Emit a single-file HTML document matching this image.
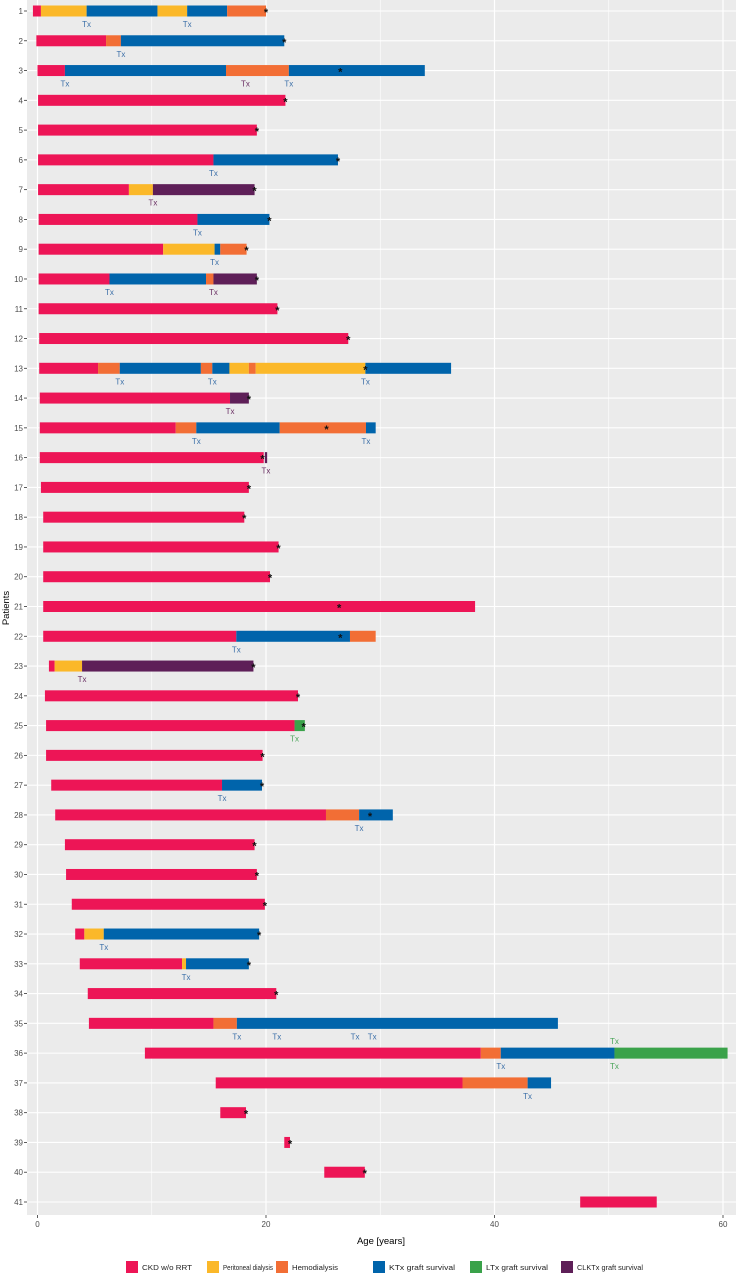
<!DOCTYPE html>
<html><head><meta charset="utf-8"><style>
html,body{margin:0;padding:0;background:#fff;width:736px;height:1273px;overflow:hidden}
svg{display:block;font-family:"Liberation Sans",sans-serif}
</style></head><body>
<svg id="chart" width="736" height="1273"></svg>
<script>
// ---- data (ages in years) ----
const patients = Array.from({length:41},(_,i)=>i+1);
const segPatient = [1,1,1,1,1,1, 2,2,2, 3,3,3,3, 4,5, 6,6, 7,7,7, 8,8, 9,9,9,9, 10,10,10,10, 11,12,
 13,13,13,13,13,13,13,13,13, 14,14, 15,15,15,15,15, 16,16, 17,18,19,20,21, 22,22,22, 23,23,23, 24, 25,25, 26, 27,27, 28,28,28,
 29,30,31, 32,32,32, 33,33,33, 34, 35,35,35, 36,36,36,36, 37,37,37, 38,39,40,41];
const segStart = [-0.4,0.3,4.3,10.5,13.1,16.6, -0.1,6.0,7.3, 0,2.4,16.5,22.0, 0.05,0.05, 0.05,15.4, 0.05,8.0,10.1, 0.1,14.0, 0.1,11.0,15.5,16.0, 0.1,6.3,14.75,15.4, 0.1,0.15,
 0.15,5.3,7.2,14.3,15.3,16.8,18.5,19.1,28.7, 0.2,16.85, 0.2,12.1,13.9,21.2,28.75, 0.2,19.9, 0.3,0.5,0.5,0.5,0.5, 0.5,17.4,27.35, 1.0,1.5,3.9, 0.65, 0.75,22.5, 0.75, 1.2,16.15, 1.55,25.25,28.15,
 2.4,2.5,3.0, 3.3,4.1,5.8, 3.7,12.65,13.0, 4.4, 4.5,15.4,17.45, 9.4,38.8,40.55,50.5, 15.6,37.2,42.9, 16.0,21.6,25.1,47.5];
const segEnd = [0.3,4.3,10.5,13.1,16.6,20.0, 6.0,7.3,21.6, 2.4,16.5,22.0,33.9, 21.7,19.2, 15.4,26.3, 8.0,10.1,19.0, 14.0,20.3, 11.0,15.5,16.0,18.3, 6.3,14.75,15.4,19.2, 21.0,27.2,
 5.3,7.2,14.3,15.3,16.8,18.5,19.1,28.7,36.2, 16.85,18.5, 12.1,13.9,21.2,28.75,29.6, 19.8,20.1, 18.5,18.1,21.1,20.35,38.3, 17.4,27.35,29.6, 1.5,3.9,18.9, 22.8, 22.5,23.4, 19.7, 16.15,19.65, 25.25,28.15,31.1,
 19.0,19.2,19.9, 4.1,5.8,19.4, 12.65,13.0,18.5, 20.9, 15.4,17.45,45.55, 38.8,40.55,50.5,60.4, 37.2,42.9,44.95, 18.25,22.1,28.65,54.2];
const segType = ["ckd","pd","ktx","pd","ktx","hd", "ckd","hd","ktx", "ckd","ktx","hd","ktx", "ckd","ckd", "ckd","ktx", "ckd","pd","clk", "ckd","ktx", "ckd","pd","ktx","hd", "ckd","ktx","hd","clk", "ckd","ckd",
 "ckd","hd","ktx","hd","ktx","pd","hd","pd","ktx", "ckd","clk", "ckd","hd","ktx","hd","ktx", "ckd","clk", "ckd","ckd","ckd","ckd","ckd", "ckd","ktx","hd", "ckd","pd","clk", "ckd", "ckd","ltx", "ckd", "ckd","ktx", "ckd","hd","ktx",
 "ckd","ckd","ckd", "ckd","pd","ktx", "ckd","pd","ktx", "ckd", "ckd","hd","ktx", "ckd","hd","ktx","ltx", "ckd","hd","ktx", "ckd","ckd","ckd","ckd"];
const starPatient = [1,2,3,4,5,6,7,8,9,10,11,12,13,14,15,16,17,18,19,20,21,22,23,24,25,26,27,28,29,30,31,32,33,34,38,39,40];
const starAge = [20.0,21.6,26.5,21.7,19.2,26.3,19.0,20.3,18.3,19.2,21.0,27.2,28.7,18.5,25.3,19.7,18.5,18.1,21.1,20.35,26.4,26.5,18.9,22.8,23.3,19.7,19.65,29.1,19.0,19.2,19.9,19.4,18.5,20.9,18.25,22.1,28.65];
const txPatient = [1,1,2,3,3,3,6,7,8,9,10,10,13,13,13,14,15,15,16,22,23,25,27,28,32,33,35,35,35,35,36,36,36,37];
const txAge = [4.3,13.1,7.3,2.4,18.2,22.0,15.4,10.1,14.0,15.5,6.3,15.4,7.2,15.3,28.7,16.85,13.9,28.75,20.0,17.4,3.9,22.5,16.15,28.15,5.8,13.0,17.45,20.95,27.8,29.3,40.55,50.5,50.5,42.9];
const txType = ["ktx","ktx","ktx","ktx","clk","ktx","ktx","clk","ktx","ktx","ktx","clk","ktx","ktx","ktx","clk","ktx","ktx","clk","ktx","clk","ltx","ktx","ktx","ktx","ktx","ktx","ktx","ktx","ktx","ktx","ltx","ltx-top","ktx"];
const xTicks = [0,20,40,60];
const xMinor = [10,30,50];
const legendKeys = ["ckd","pd","hd","ktx","ltx","clk"];
const legendLabels = ["CKD w/o RRT","Peritoneal dialysis","Hemodialysis","KTx graft survival","LTx graft survival","CLKTx graft survival"];

const fill = {ckd:"#ED1556",pd:"#FBB829",hd:"#F26E35",ktx:"#0064AB",ltx:"#3AA24A",clk:"#5E1F58"};
const txCol = {ktx:"#3b6fa8",clk:"#6a2f63","ltx":"#4aa55a","ltx-top":"#4aa55a"};

const NS="http://www.w3.org/2000/svg";
const svg=document.getElementById('chart');
const PL=27, PR=736, PT=0, PB=1215;
const x = a => 37.5 + a*11.425;
const y = p => 11 + (p-1)*29.775;
function mk(tag, attrs, parent){const e=document.createElementNS(NS,tag);for(const k in attrs)e.setAttribute(k,attrs[k]);(parent||svg).appendChild(e);return e;}

const panel = mk('rect',{x:PL,y:PT,width:PR-PL,height:PB-PT,fill:'#EBEBEB'});


xMinor.forEach(v=>{const l=mk('line',{x1:x(v),x2:x(v),y1:PT,y2:PB,stroke:'#fff','stroke-width':0.6});

});
xTicks.forEach(v=>{const l=mk('line',{x1:x(v),x2:x(v),y1:PT,y2:PB,stroke:'#fff','stroke-width':1.2});


const t=mk('line',{x1:x(v),x2:x(v),y1:PB,y2:PB+3,stroke:'#333','stroke-width':0.8});


const tx=mk('text',{x:x(v),y:PB+12,'font-size':8,fill:'#4d4d4d','text-anchor':'middle'});tx.textContent=v;

});
patients.forEach(p=>{const l=mk('line',{x1:PL,x2:PR,y1:y(p),y2:y(p),stroke:'#fff','stroke-width':1.1});


const t=mk('line',{x1:PL-3,x2:PL,y1:y(p),y2:y(p),stroke:'#333','stroke-width':0.8});


const tx=mk('text',{x:PL-4,y:y(p)+3,'font-size':8,fill:'#4d4d4d','text-anchor':'end'});tx.textContent=p;

});
segPatient.forEach((p,i)=>{const r=mk('rect',{x:x(segStart[i]),y:y(p)-5.5,width:Math.max(0.8,x(segEnd[i])-x(segStart[i])),height:11,fill:fill[segType[i]]});

});
txPatient.forEach((p,i)=>{const top=txType[i]==='ltx-top';const t=mk('text',{x:x(txAge[i]),y:top?y(p)-9:y(p)+16,'font-size':8,fill:txCol[txType[i]],'text-anchor':'middle'});t.textContent='Tx';

});
starPatient.forEach((p,i)=>{const t=mk('text',{x:x(starAge[i]),y:y(p)+5,'font-size':11,'font-weight':'bold',fill:'#111','text-anchor':'middle'});t.textContent='*';

});
const xt=mk('text',{x:381,y:1244,'font-size':9.5,fill:'#000','text-anchor':'middle'});xt.textContent='Age [years]';


const yt=mk('text',{x:0,y:0,'font-size':9.5,fill:'#000','text-anchor':'middle',transform:'translate(9,608) rotate(-90)'});yt.textContent='Patients';


const lx=[126,207,276,373,470,561];
const lw=[50,50,46,66,62,66];
legendKeys.forEach((k,i)=>{const g=mk('g',{});


mk('rect',{x:lx[i],y:1261,width:12,height:12,fill:fill[k]},g);
const t=mk('text',{x:lx[i]+16,y:1270,'font-size':7.5,fill:'#222',textLength:lw[i],lengthAdjust:'spacingAndGlyphs'},g);t.textContent=legendLabels[i];});
</script>
</body></html>
